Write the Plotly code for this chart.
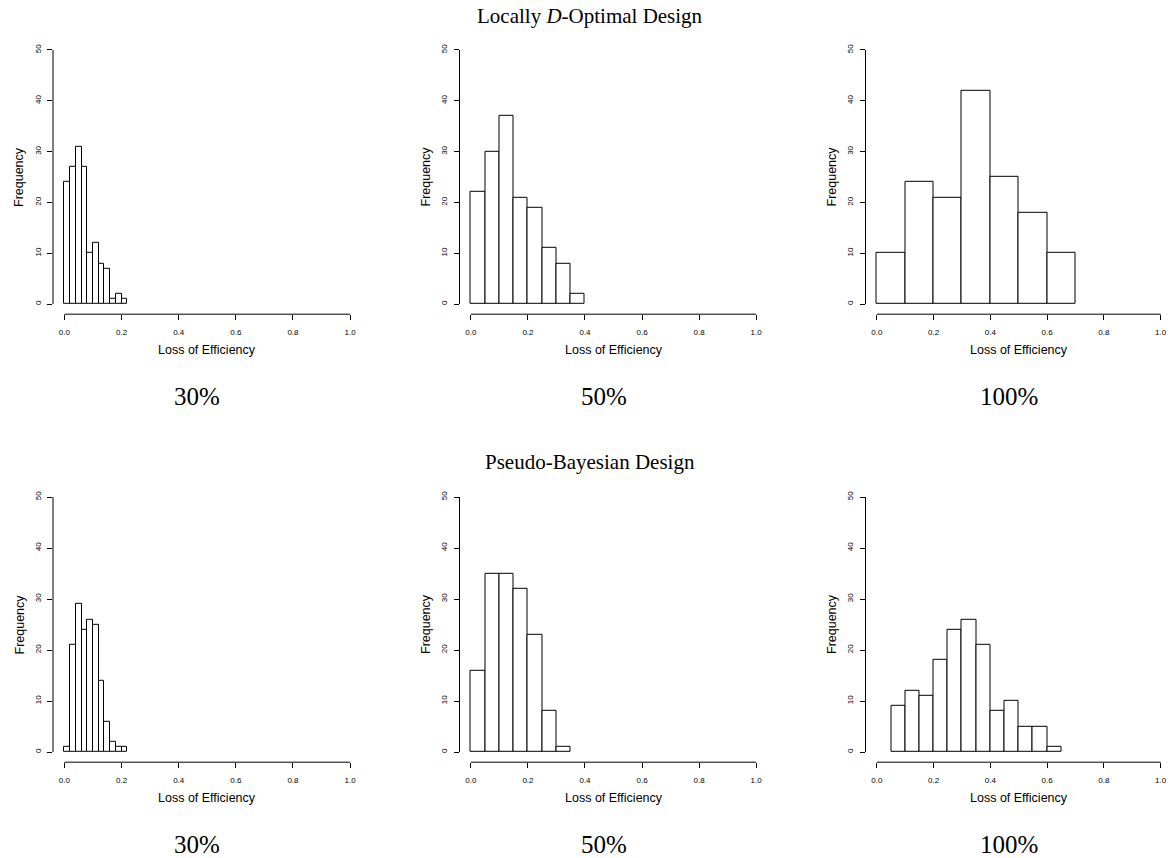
import plotly.graph_objects as go

# ---- data ----
loc30_start, loc30_width = 0.0, 0.02
loc30_counts = [24, 27, 31, 27, 10, 12, 8, 7, 1, 2, 1]
loc50_start, loc50_width = 0.0, 0.05
loc50_counts = [22, 30, 37, 21, 19, 11, 8, 2]
loc100_start, loc100_width = 0.0, 0.1
loc100_counts = [10, 24, 21, 42, 25, 18, 10]

pb30_start, pb30_width = 0.0, 0.02
pb30_counts = [1, 21, 29, 24, 26, 25, 14, 6, 2, 1, 1]
pb50_start, pb50_width = 0.0, 0.05
pb50_counts = [16, 35, 35, 32, 23, 8, 1]
pb100_start, pb100_width = 0.05, 0.05
pb100_counts = [9, 12, 11, 18, 24, 26, 21, 8, 10, 5, 5, 1]

panel_labels = ["30%", "50%", "100%"]
row_titles = ["Locally <i>D</i>-Optimal Design", "Pseudo-Bayesian Design"]
x_ticks = [0.0, 0.2, 0.4, 0.6, 0.8, 1.0]
y_ticks = [0, 10, 20, 30, 40, 50]
x_title = "Loss of Efficiency"
y_title = "Frequency"

panels = [
    (loc30_start, loc30_width, loc30_counts),
    (loc50_start, loc50_width, loc50_counts),
    (loc100_start, loc100_width, loc100_counts),
    (pb30_start, pb30_width, pb30_counts),
    (pb50_start, pb50_width, pb50_counts),
    (pb100_start, pb100_width, pb100_counts),
]

W, H = 1172, 858
# pixel layout of the plot regions
col_px = [(53, 361.5), (459.5, 767.5), (865.5, 1172)]
row_px = [(39.8, 314.2), (486.8, 762.2)]

fig = go.Figure()
sans = "Liberation Sans, Arial, sans-serif"
serif = "Liberation Serif, DejaVu Serif, serif"

for i, (start, width, counts) in enumerate(panels):
    r, c = divmod(i, 3)
    ax = "" if i == 0 else str(i + 1)
    xa, ya = "x" + ax, "y" + ax
    centers = [start + width * (k + 0.5) for k in range(len(counts))]
    fig.add_trace(go.Bar(
        x=centers, y=counts, width=[width] * len(counts),
        marker=dict(color="white", line=dict(color="black", width=1)),
        xaxis=xa, yaxis=ya, showlegend=False, hoverinfo="x+y"))
    x0, x1 = col_px[c]
    top, bot = row_px[r]
    fig.layout["xaxis" + ax] = dict(
        domain=[x0 / W, x1 / W], range=[-0.04, 1.04], anchor=ya,
        tickvals=x_ticks, ticktext=[f"{v:.1f}" for v in x_ticks],
        ticks="outside", ticklen=5, tickwidth=1, tickcolor="black",
        ticklabelstandoff=5,
        showgrid=False, zeroline=False, showline=False,
        tickfont=dict(family=sans, size=8, color="black"))
    fig.layout["yaxis" + ax] = dict(
        domain=[1 - bot / H, 1 - top / H], range=[-2, 52], anchor=xa,
        tickvals=y_ticks, tickangle=-90,
        ticks="outside", ticklen=5, tickwidth=1, tickcolor="black",
        ticklabelstandoff=3,
        showgrid=False, zeroline=False, showline=False,
        tickfont=dict(family=sans, size=8, color="black"))
    # R-style axis lines spanning only the tick range
    fig.add_shape(type="line", xref=xa, yref=ya + " domain",
                  x0=x_ticks[0], x1=x_ticks[-1], y0=0, y1=0,
                  line=dict(color="black", width=1))
    fig.add_shape(type="line", xref=xa + " domain", yref=ya,
                  x0=0, x1=0, y0=y_ticks[0], y1=y_ticks[-1],
                  line=dict(color="black", width=1))
    # axis titles
    fig.add_annotation(text=x_title, xref=xa, yref="paper",
                       x=0.5, y=1 - (bot + 36) / H, xanchor="center", yanchor="middle",
                       showarrow=False, font=dict(family=sans, size=12.5, color="black"))
    fig.add_annotation(text=y_title, xref="paper", yref=ya,
                       x=(x0 - 34) / W, y=25, xanchor="center", yanchor="middle",
                       textangle=-90,
                       showarrow=False, font=dict(family=sans, size=12.5, color="black"))
    # panel caption
    fig.add_annotation(text=panel_labels[c], xref="paper", yref="paper",
                       x=(x0 + (x1 - x0) / 2 - 10) / W, y=1 - (bot + 82) / H,
                       xanchor="center", yanchor="middle",
                       showarrow=False, font=dict(family=serif, size=25, color="black"))

fig.add_annotation(text=row_titles[0], xref="paper", yref="paper",
                   x=590 / W, y=1 - 16 / H, xanchor="center", yanchor="middle",
                   showarrow=False, font=dict(family=serif, size=21, color="black"))
fig.add_annotation(text=row_titles[1], xref="paper", yref="paper",
                   x=590 / W, y=1 - 462 / H, xanchor="center", yanchor="middle",
                   showarrow=False, font=dict(family=serif, size=21, color="black"))

fig.update_layout(width=W, height=H, margin=dict(l=0, r=0, t=0, b=0),
                  paper_bgcolor="white", plot_bgcolor="white", bargap=0)
fig.write_html("out.html", config={"displayModeBar": False},
               post_script="document.body.style.margin='0';document.body.style.overflow='hidden';")
